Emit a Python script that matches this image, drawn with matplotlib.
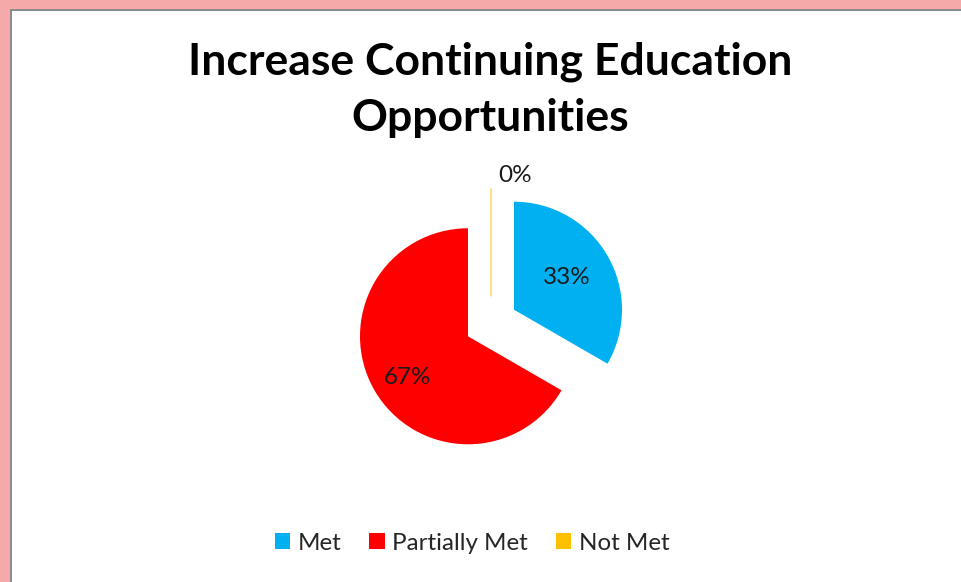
import matplotlib
matplotlib.use("Agg")
import matplotlib.pyplot as plt
from matplotlib.patches import Rectangle

categories = ["Met", "Partially Met", "Not Met"]
values = [1, 2, 0]
colors = ["#00B0F0", "#FF0000", "#FFC000"]
title_lines = ["Increase Continuing Education", "Opportunities"]

plt.rcParams['font.family'] = ['Lato', 'DejaVu Sans']

W, H = 961, 582
fig = plt.figure(figsize=(W / 100, H / 100), dpi=100)
fig.patch.set_facecolor("white")

# pink frame and gray inner line
pink = "#F6A9A9"
fig.patches.append(Rectangle((0, 1 - 8.5 / H), 1, 8.5 / H, transform=fig.transFigure,
                             facecolor=pink, edgecolor="none", zorder=0))
fig.patches.append(Rectangle((0, 0), 9.5 / W, 1, transform=fig.transFigure,
                             facecolor=pink, edgecolor="none", zorder=0))
fig.patches.append(Rectangle((9.5 / W, 0), 2 / W, 1 - 8.5 / H, transform=fig.transFigure,
                             facecolor="#8C8C8C", edgecolor="none", zorder=0))
fig.patches.append(Rectangle((9.5 / W, 1 - 10.5 / H), 1, 2 / H, transform=fig.transFigure,
                             facecolor="#8C8C8C", edgecolor="none", zorder=0))

# pie axes: center (491, 323) px, radius 108 px
cx, cy, r = 491, 323, 108
a = 2.0
half = a * r
ax = fig.add_axes([(cx - half) / W, (H - cy - half) / H, 2 * half / W, 2 * half / H])
ax.set_xlim(-a, a)
ax.set_ylim(-a, a)
ax.axis('off')

explode = [0.246] * len(values)
wedges, texts, autotexts = ax.pie(values, colors=colors, startangle=90, counterclock=False,
                                  explode=explode, radius=1.0,
                                  autopct=lambda p: f"{p:.0f}%", pctdistance=0.62,
                                  wedgeprops=dict(linewidth=0),
                                  textprops=dict(fontsize=17.5, color="#1a1a1a"))
ax.set_xlim(-a, a)
ax.set_ylim(-a, a)
# zero-value wedge shown as a thin line
wedges[2].set_edgecolor("#FFC000")
wedges[2].set_linewidth(1.2)
wedges[2].set_alpha(0.6)
# label placement as in the reference
autotexts[0].set_position((0.70, 0.42))
autotexts[1].set_position((-0.77, -0.50))
autotexts[2].set_position((0.22, 1.37))

for i, line in enumerate(title_lines):
    fig.text(490 / W, 1 - (62 + 56 * i) / H, line, ha="center", va="center",
             fontsize=32, fontweight="bold", color="black")

leg = fig.legend(wedges, categories, loc="center", bbox_to_anchor=(472 / W, 1 - 543 / H),
                 ncol=3, frameon=False, fontsize=17.4, handlelength=0.65, handleheight=0.65,
                 handletextpad=0.3, columnspacing=1.15)
for h in leg.legend_handles:
    h.set_alpha(1)
    h.set_linewidth(0)
for t in leg.get_texts():
    t.set_color("#262626")

fig.savefig("out.png", dpi=100)
